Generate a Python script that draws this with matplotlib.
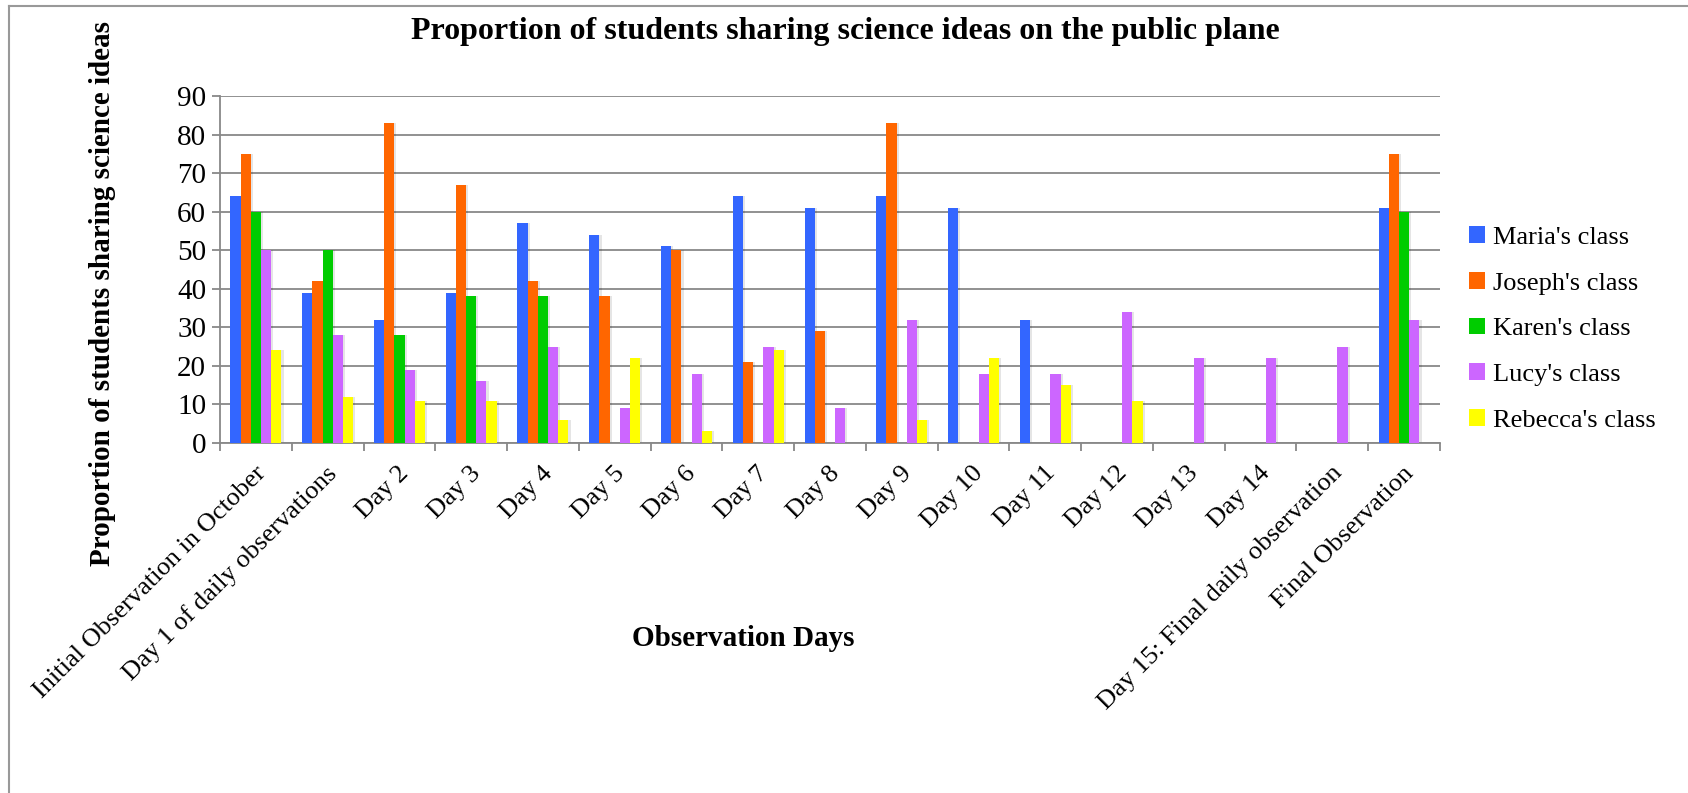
import numpy as np
import matplotlib
matplotlib.use("Agg")
import matplotlib.pyplot as plt
import matplotlib.transforms as mtransforms
from matplotlib.lines import Line2D

plt.rcParams['font.family'] = ['Liberation Serif', 'DejaVu Serif']

categories = ["Initial Observation in October", "Day 1 of daily observations",
              "Day 2", "Day 3", "Day 4", "Day 5", "Day 6", "Day 7", "Day 8",
              "Day 9", "Day 10", "Day 11", "Day 12", "Day 13", "Day 14",
              "Day 15: Final daily observation", "Final Observation"]
maria = [64, 39, 32, 39, 57, 54, 51, 64, 61, 64, 61, 32, 0, 0, 0, 0, 61]
joseph = [75, 42, 83, 67, 42, 38, 50, 21, 29, 83, 0, 0, 0, 0, 0, 0, 75]
karen = [60, 50, 28, 38, 38, 0, 0, 0, 0, 0, 0, 0, 0, 0, 0, 0, 60]
lucy = [50, 28, 19, 16, 25, 9, 18, 25, 9, 32, 18, 18, 34, 22, 22, 25, 32]
rebecca = [24, 12, 11, 11, 6, 22, 3, 24, 0, 6, 22, 15, 11, 0, 0, 0, 0]
names = ["Maria's class", "Joseph's class", "Karen's class", "Lucy's class", "Rebecca's class"]
colors = ['#3366FF', '#FF6600', '#00CC00', '#CC66FF', '#FFFF00']

fig = plt.figure(figsize=(16.88, 7.93), dpi=100)
ax = fig.add_axes([220/1688, 1-443/793, (1440-220)/1688, (443-96)/793])

x = np.arange(len(categories))
w = 0.142
series = [maria, joseph, karen, lucy, rebecca]
for i, (vals, c, n) in enumerate(zip(series, colors, names)):
    # soft shadow to the right, like the original office chart
    ax.bar(x + (i - 2) * w + 0.03, vals, width=w, color='black', alpha=0.1,
           zorder=2, linewidth=0)
    ax.bar(x + (i - 2) * w, vals, width=w, color=c, label=n, zorder=3, linewidth=0)

ax.set_xlim(-0.5, len(categories) - 0.5)
ax.set_ylim(0, 90)
ax.set_yticks(range(0, 91, 10))
ax.yaxis.grid(True, color='#888888', linewidth=1.3, zorder=0)
ax.set_axisbelow(True)

ax.set_xticks(x)
ax.set_xticks(np.arange(-0.5, len(categories)), minor=True)
ax.tick_params(axis='x', which='major', length=0, pad=8)
ax.tick_params(axis='x', which='minor', length=6, width=1.3, color='#888888')
ax.tick_params(axis='y', length=6, width=1.3, color='#888888', labelsize=21, pad=4)
ax.set_xticklabels(categories, rotation=45, ha='right', fontsize=19)
# nudge the rotated labels so their ends sit under the group centres
shift = mtransforms.ScaledTranslation(0.14, -0.08, fig.dpi_scale_trans)
for lab in ax.get_xticklabels():
    lab.set_transform(lab.get_transform() + shift)

for s in ['top', 'right']:
    ax.spines[s].set_visible(False)
for s in ['left', 'bottom']:
    ax.spines[s].set_color('#888888')
    ax.spines[s].set_linewidth(1.3)

fig.text(845/1688, 1-32/793, "Proportion of students sharing science ideas on the public plane",
         ha='center', va='center', fontsize=23, fontweight='bold')
fig.text(103/1688, 1-294/793, "Proportion of students sharing science ideas",
         ha='center', va='center', rotation=90, fontsize=21, fontweight='bold')
fig.text(743/1688, 1-639/793, "Observation Days",
         ha='center', va='center', fontsize=21, fontweight='bold')

ax.legend(loc='center left', bbox_to_anchor=(1469/1688, 1-329/793),
          bbox_transform=fig.transFigure, frameon=False, fontsize=19,
          handlelength=0.6, handleheight=0.6, handletextpad=0.3,
          labelspacing=0.87, borderpad=0, borderaxespad=0)

# outer frame (left and top edges)
fig.add_artist(Line2D([9/1688, 9/1688], [0, 1-6/793], color='#999999', lw=1.5,
                      transform=fig.transFigure))
fig.add_artist(Line2D([9/1688, 1], [1-6/793, 1-6/793], color='#999999', lw=1.5,
                      transform=fig.transFigure))

fig.savefig('out.png', dpi=100)
